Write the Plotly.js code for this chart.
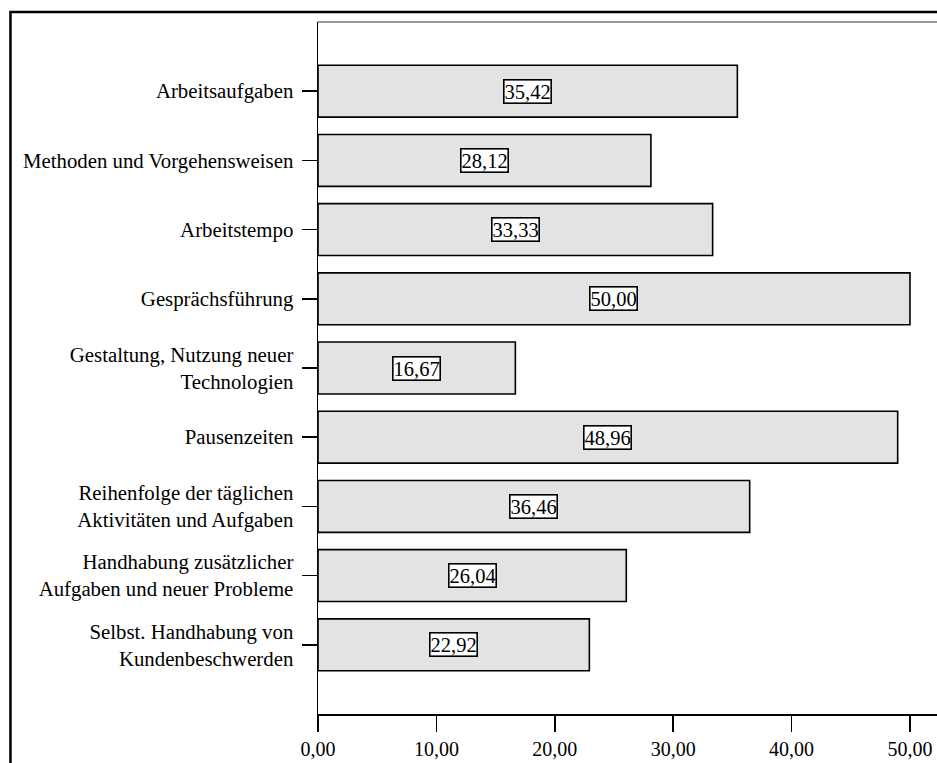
<!DOCTYPE html>
<html>
<head>
<meta charset="utf-8">
<script src="https://cdn.plot.ly/plotly-3.0.1.min.js"></script>
<style>
  html, body { margin: 0; padding: 0; background: #ffffff; overflow: hidden; }
  #chart { width: 960px; height: 774px; }
</style>
</head>
<body>
<div id="chart"></div>
<script>
// Areas of employee autonomy (share in percent)
const categories = [
  "Arbeitsaufgaben",
  "Methoden und Vorgehensweisen",
  "Arbeitstempo",
  "Gesprächsführung",
  "Gestaltung, Nutzung neuer<br>Technologien",
  "Pausenzeiten",
  "Reihenfolge der täglichen<br>Aktivitäten und Aufgaben",
  "Handhabung zusätzlicher<br>Aufgaben und neuer Probleme",
  "Selbst. Handhabung von<br>Kundenbeschwerden"
];
const values = [35.42, 28.12, 33.33, 50.00, 16.67, 48.96, 36.46, 26.04, 22.92];
const xTickValues = [0, 10, 20, 30, 40, 50];
const xTickLabels = ["0,00", "10,00", "20,00", "30,00", "40,00", "50,00"];

const serif = "Liberation Serif, Times New Roman, serif";
const fmt = v => v.toFixed(2).replace(".", ",");

const bars = {
  type: "bar",
  orientation: "h",
  x: values,
  y: categories,
  width: 0.75,
  marker: { color: "#e3e3e3", line: { color: "#000000", width: 1.6 } },
  hoverinfo: "skip"
};

// value boxes sit in the middle of each bar
const labels = values.map((v, i) => ({
  x: v / 2,
  y: categories[i],
  xref: "x",
  yref: "y",
  text: fmt(v),
  showarrow: false,
  font: { family: serif, size: 20.5, color: "#000000" },
  bgcolor: "#ffffff",
  bordercolor: "#000000",
  borderwidth: 1.6,
  borderpad: 0
}));

const layout = {
  width: 960,
  height: 774,
  margin: { l: 318, r: 10, t: 22, b: 60 },
  paper_bgcolor: "#ffffff",
  plot_bgcolor: "#ffffff",
  showlegend: false,
  font: { family: serif, size: 20, color: "#000000" },
  xaxis: {
    range: [0, 53.38],
    tickmode: "array",
    tickvals: xTickValues,
    ticktext: xTickLabels,
    ticks: "outside",
    ticklen: 16,
    tickwidth: 1.5,
    tickcolor: "#000000",
    showline: true,
    linecolor: "#000000",
    linewidth: 1.5,
    showgrid: false,
    zeroline: false,
    tickfont: { family: serif, size: 20, color: "#000000" }
  },
  yaxis: {
    type: "category",
    categoryorder: "array",
    categoryarray: categories,
    range: [9, -1],
    ticks: "outside",
    ticklen: 15,
    tickwidth: 1.5,
    tickcolor: "#000000",
    ticklabelstandoff: 4,
    showline: true,
    linecolor: "#000000",
    linewidth: 1.5,
    showgrid: false,
    zeroline: false,
    tickfont: { family: serif, size: 20.8, color: "#000000" }
  },
  annotations: labels,
  shapes: [
    // top edge of the plotting area
    { type: "line", xref: "paper", yref: "paper", x0: 0, x1: 1.2, y0: 1, y1: 1,
      line: { color: "#333333", width: 1 } },
    // outer frame
    { type: "rect", xref: "paper", yref: "paper",
      x0: -0.4866, x1: 1.3, y0: 1.0145, y1: -0.3,
      line: { color: "#000000", width: 2.5 }, fillcolor: "rgba(0,0,0,0)" }
  ]
};

Plotly.newPlot("chart", [bars], layout, { staticPlot: true, displayModeBar: false });
</script>
</body>
</html>
